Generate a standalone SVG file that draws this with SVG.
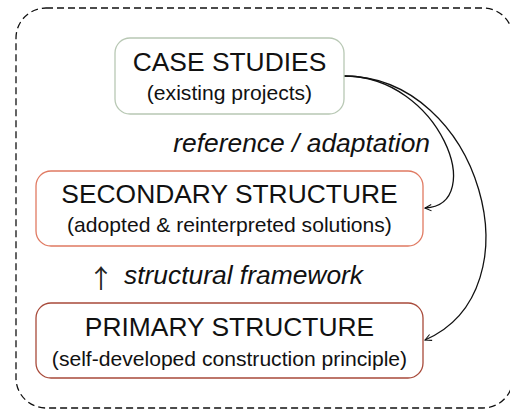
<svg xmlns="http://www.w3.org/2000/svg" width="510" height="412" viewBox="0 0 510 412">
<defs>
<style>
.t{font-family:"Liberation Sans",Arial,sans-serif;fill:#111;text-anchor:middle}
.h{font-size:26.4px}
.s{font-size:21.1px}
.i{font-family:"Liberation Sans",Arial,sans-serif;font-style:italic;font-size:26.4px;fill:#111}
.ar{font-family:"Noto Sans CJK SC","DejaVu Sans",sans-serif;font-size:26px;fill:#222;text-anchor:middle}
.box{fill:#fff;stroke-width:1.3}
.con{fill:none;stroke:#111;stroke-width:1.3}
</style>
<marker id="arr" viewBox="0 0 10 10" refX="9" refY="5" markerWidth="8" markerHeight="8" markerUnits="userSpaceOnUse" orient="auto">
<path d="M1,1 L9,5 L1,9" fill="none" stroke="#111" stroke-width="1.3"/>
</marker>
</defs>
<rect x="16" y="8" width="497" height="400" rx="30" ry="30" fill="none" stroke="#111" stroke-width="1.3" stroke-dasharray="7 4"/>
<g id="connectors">
<path class="con" d="M344,76 C440,76 488,205 425,208" marker-end="url(#arr)"/>
<path class="con" d="M344,76 C480,76 540,290 425,340" marker-end="url(#arr)"/>
</g>
<g id="case-studies">
<rect class="box" x="115" y="38" width="229" height="76" rx="15" stroke="#b8c8b4"/>
<text class="t h" x="229.5" y="71">CASE STUDIES</text>
<text class="t s" x="229.5" y="100">(existing projects)</text>
</g>
<g id="label-reference">
<text class="i" x="430" y="152" text-anchor="end">reference / adaptation</text>
</g>
<g id="secondary-structure">
<rect class="box" x="36" y="171" width="387" height="75" rx="15" stroke="#e07a62"/>
<text class="t h" x="229.5" y="203">SECONDARY STRUCTURE</text>
<text class="t s" x="229.5" y="232">(adopted &amp; reinterpreted solutions)</text>
</g>
<g id="label-framework">
<text class="ar" x="101" y="288">↑</text>
<text class="i" x="124" y="284">structural framework</text>
</g>
<g id="primary-structure">
<rect class="box" x="36" y="303" width="387" height="75" rx="15" stroke="#a84a3a"/>
<text class="t h" x="229.5" y="336">PRIMARY STRUCTURE</text>
<text class="t s" x="229.5" y="366">(self-developed construction principle)</text>
</g>
</svg>
